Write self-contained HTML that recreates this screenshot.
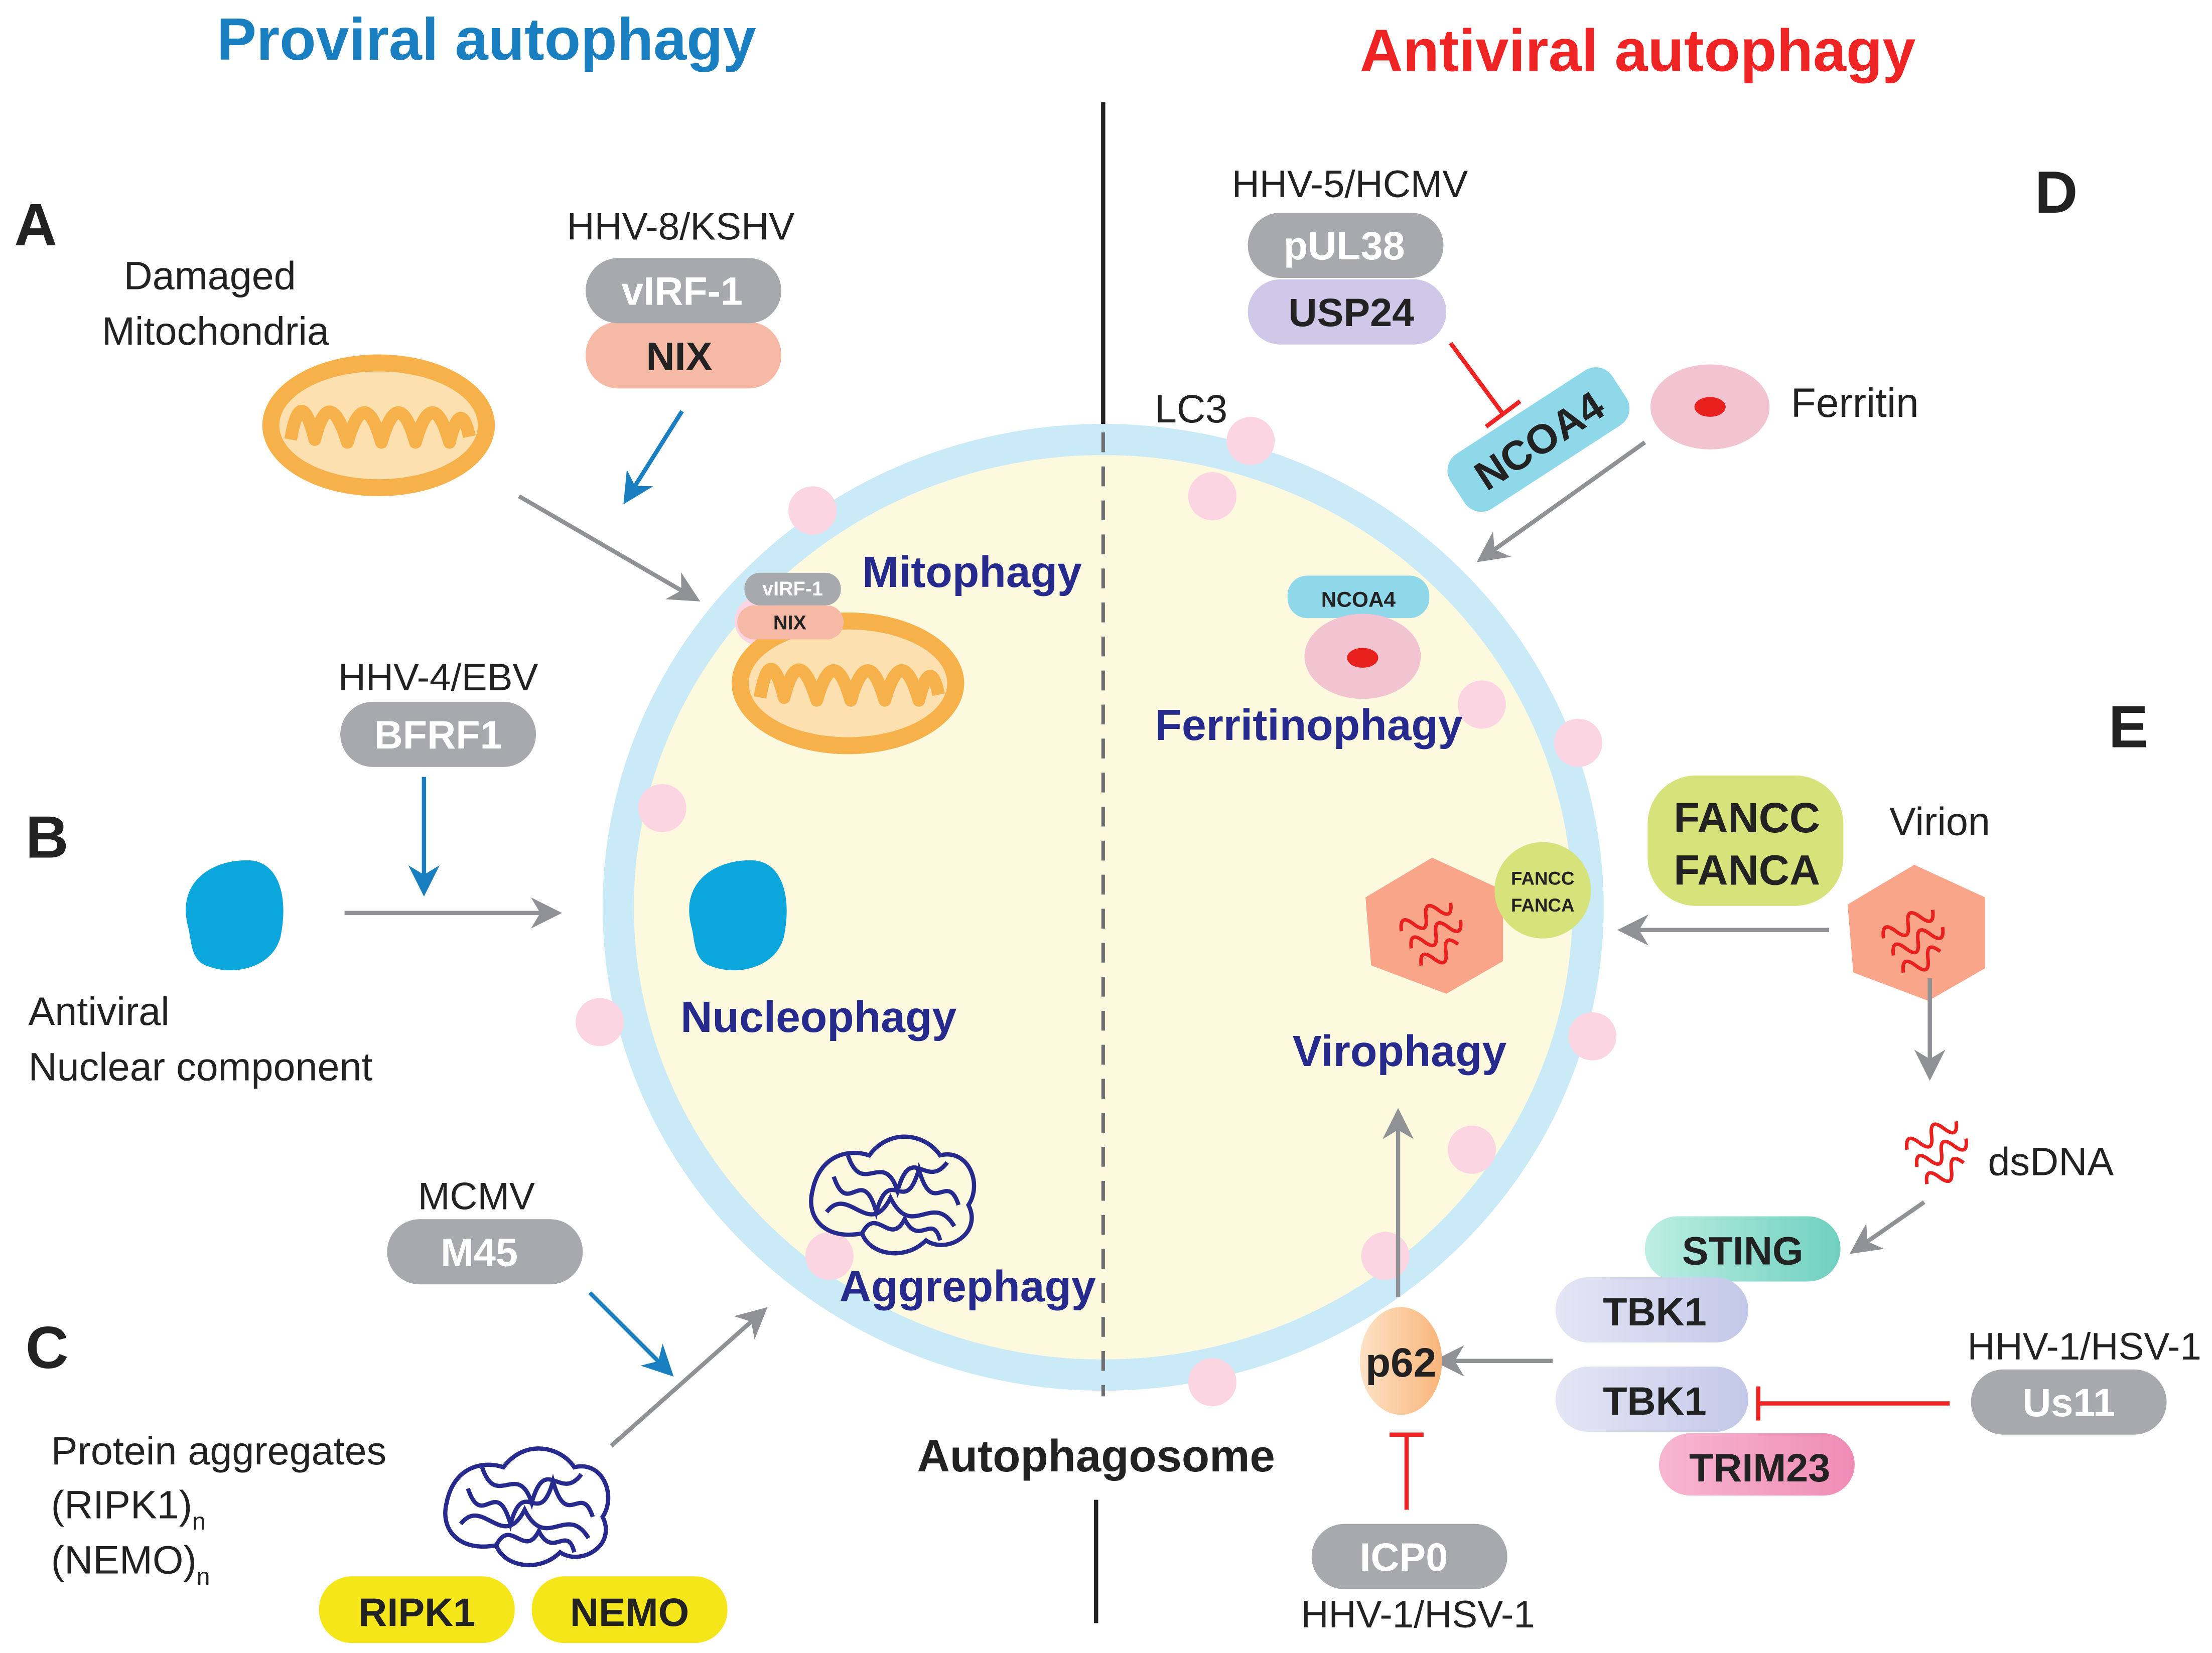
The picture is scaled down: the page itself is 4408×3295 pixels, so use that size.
<!DOCTYPE html>
<html><head><meta charset="utf-8"><style>
html,body{margin:0;padding:0;background:#fff;}
svg{display:block;}
text{font-family:"Liberation Sans",Arial,sans-serif;}
</style></head><body>
<svg width="4408" height="3295" viewBox="0 0 1560 1166" xmlns="http://www.w3.org/2000/svg">
<defs>
<marker id="ag" markerWidth="10" markerHeight="10" refX="8" refY="5" orient="auto" markerUnits="userSpaceOnUse" viewBox="0 0 10 10"><path d="M0,0 L10,5 L0,10 L3,5 Z" fill="#8f9194"/></marker>
<marker id="ab" markerWidth="10" markerHeight="10" refX="8" refY="5" orient="auto" viewBox="0 0 10 10"><path d="M0,0 L10,5 L0,10 L3,5 Z" fill="#1a7fc1"/></marker>
<marker id="ag2" viewBox="0 0 10 10" refX="8" refY="5" markerWidth="22" markerHeight="22" orient="auto" markerUnits="userSpaceOnUse"><path d="M0,0 L10,5 L0,10 L3,5 Z" fill="#8f9194"/></marker>
<marker id="ab2" viewBox="0 0 10 10" refX="8" refY="5" markerWidth="22" markerHeight="22" orient="auto" markerUnits="userSpaceOnUse"><path d="M0,0 L10,5 L0,10 L3,5 Z" fill="#1a7fc1"/></marker>
<linearGradient id="sting" x1="0" x2="1"><stop offset="0" stop-color="#bdeee3"/><stop offset="1" stop-color="#6fd0bf"/></linearGradient>
<linearGradient id="tbk" x1="0" x2="1"><stop offset="0" stop-color="#e4e6f5"/><stop offset="1" stop-color="#c3c8e8"/></linearGradient>
<linearGradient id="p62" x1="0" x2="1"><stop offset="0" stop-color="#fde2c6"/><stop offset="1" stop-color="#f9b57a"/></linearGradient>
<linearGradient id="trim" x1="0" x2="1"><stop offset="0" stop-color="#f7b6d0"/><stop offset="1" stop-color="#ef8cb6"/></linearGradient>
<g id="mito">
<ellipse cx="0" cy="0" rx="82" ry="50" fill="#f7b14a"/>
<ellipse cx="0" cy="0" rx="70" ry="38" fill="#fde0b0"/>
<path d="M-62,10 Q-55,-30 -45,10 Q-35,-30 -22,12 Q-10,-30 2,12 Q14,-30 26,12 Q38,-30 50,12 Q58,-20 64,8" fill="none" stroke="#f7b14a" stroke-width="9" stroke-linejoin="round"/>
</g>
<g id="blob">
<path d="M-30,10 C-40,-25 -10,-40 15,-38 C35,-35 40,-10 35,15 C30,38 0,45 -20,35 C-28,30 -28,20 -30,10 Z" fill="#0aa6dc"/>
</g>
<g id="agg" fill="none" stroke="#262a8c" stroke-width="3">
<path d="M-55,0 C-50,-25 -30,-30 -15,-25 C0,-45 25,-40 35,-25 C55,-30 65,-5 55,10 C65,30 40,45 25,35 C10,50 -15,45 -20,30 C-45,35 -60,20 -55,0 Z"/>
<path d="M-40,-10 C-30,20 -20,-20 -10,15 C0,-20 10,20 20,-15 C30,20 40,-15 48,10"/>
<path d="M-45,15 C-30,-5 -15,35 0,5 C15,35 30,0 45,25"/>
<path d="M-30,-25 C-20,5 -5,-30 5,0 C15,-35 25,0 40,-20"/>
<path d="M-20,30 C-10,10 0,40 10,20 C20,40 30,15 35,35"/>
</g>
<g id="virion">
<polygon points="-5,-48 45,-25 45,25 5,48 -48,28 -52,-20" fill="#f9a58a"/>
<path d="M-25,-10 q5,-12 10,0 t10,0 t10,0 t10,0 M-25,4 q5,-12 10,0 t10,0 t10,0 t10,0 M-25,18 q5,-12 10,0 t10,0 t10,0" fill="none" stroke="#e8201e" stroke-width="2.5" transform="rotate(-30)"/>
</g>
</defs>

<!-- titles -->
<text x="343" y="42" font-size="42" font-weight="bold" fill="#1a7fc1" text-anchor="middle">Proviral autophagy</text>
<text x="1155" y="50" font-size="42" font-weight="bold" fill="#ee2424" text-anchor="middle">Antiviral autophagy</text>

<!-- divider -->
<line x1="778" y1="72" x2="778" y2="305" stroke="#222" stroke-width="3"/>
<line x1="773" y1="1058" x2="773" y2="1145" stroke="#222" stroke-width="3"/>

<!-- autophagosome -->
<ellipse cx="778" cy="640" rx="342" ry="330" fill="#fdf9df" stroke="#c9eaf6" stroke-width="22"/>
<line x1="778" y1="305" x2="778" y2="985" stroke="#6d6e70" stroke-width="2.5" stroke-dasharray="14,10"/>

<!-- LC3 dots -->
<g fill="#fbd6e2">
<circle cx="573" cy="360" r="17"/><circle cx="855" cy="350" r="17"/><circle cx="882" cy="311" r="17"/>
<circle cx="1045" cy="497" r="17"/><circle cx="1113" cy="524" r="17"/><circle cx="467" cy="570" r="17"/>
<circle cx="423" cy="721" r="17"/><circle cx="1123" cy="731" r="17"/><circle cx="1038" cy="811" r="17"/>
<circle cx="977" cy="886" r="17"/><circle cx="585" cy="886" r="17"/><circle cx="855" cy="975" r="17"/>
<circle cx="535" cy="438" r="17"/>
</g>

<!-- Letters -->
<text x="10" y="173" font-size="42" font-weight="bold" fill="#222">A</text>
<text x="18" y="605" font-size="42" font-weight="bold" fill="#222">B</text>
<text x="18" y="965" font-size="42" font-weight="bold" fill="#222">C</text>
<text x="1435" y="150" font-size="42" font-weight="bold" fill="#222">D</text>
<text x="1487" y="527" font-size="42" font-weight="bold" fill="#222">E</text>

<!-- A -->
<text x="148" y="204" font-size="28" fill="#222" text-anchor="middle">Damaged</text>
<text x="152" y="243" font-size="28" fill="#222" text-anchor="middle">Mitochondria</text>
<use href="#mito" x="267" y="300"/>
<text x="480" y="169" font-size="27" fill="#222" text-anchor="middle">HHV-8/KSHV</text>
<rect x="413" y="227" width="138" height="47" rx="23" fill="#f6b9a5"/>
<text x="479" y="261" font-size="28" font-weight="bold" fill="#222" text-anchor="middle">NIX</text>
<rect x="413" y="182" width="138" height="46" rx="23" fill="#a7a9ac"/>
<text x="481" y="215" font-size="28" font-weight="bold" fill="#fff" text-anchor="middle">vIRF-1</text>
<line x1="481" y1="290" x2="442" y2="352" stroke="#1a7fc1" stroke-width="3" marker-end="url(#ab2)"/>
<line x1="366" y1="350" x2="490" y2="422" stroke="#8f9194" stroke-width="3" marker-end="url(#ag2)"/>

<use href="#mito" x="598" y="482"/>
<rect x="520" y="427" width="75" height="24" rx="12" fill="#f6b9a5"/>
<text x="557" y="444" font-size="14" font-weight="bold" fill="#222" text-anchor="middle">NIX</text>
<rect x="525" y="404" width="68" height="23" rx="11" fill="#a7a9ac"/>
<text x="559" y="420" font-size="14" font-weight="bold" fill="#fff" text-anchor="middle">vIRF-1</text>
<text x="608" y="414" font-size="31" font-weight="bold" fill="#262a8c">Mitophagy</text>

<!-- B -->
<text x="309" y="487" font-size="27" fill="#222" text-anchor="middle">HHV-4/EBV</text>
<rect x="240" y="495" width="138" height="46" rx="23" fill="#a7a9ac"/>
<text x="309" y="528" font-size="28" font-weight="bold" fill="#fff" text-anchor="middle">BFRF1</text>
<line x1="299" y1="548" x2="299" y2="628" stroke="#1a7fc1" stroke-width="3" marker-end="url(#ab2)"/>
<use href="#blob" x="163" y="645"/>
<line x1="243" y1="644" x2="392" y2="644" stroke="#8f9194" stroke-width="3" marker-end="url(#ag2)"/>
<text x="20" y="723" font-size="28" fill="#222">Antiviral</text>
<text x="20" y="762" font-size="28" fill="#222">Nuclear component</text>
<use href="#blob" x="518" y="645"/>
<text x="480" y="728" font-size="31" font-weight="bold" fill="#262a8c">Nucleophagy</text>

<!-- C -->
<text x="336" y="853" font-size="27" fill="#222" text-anchor="middle">MCMV</text>
<rect x="273" y="860" width="138" height="46" rx="23" fill="#a7a9ac"/>
<text x="338" y="893" font-size="28" font-weight="bold" fill="#fff" text-anchor="middle">M45</text>
<line x1="416" y1="912" x2="472" y2="968" stroke="#1a7fc1" stroke-width="3" marker-end="url(#ab2)"/>
<line x1="431" y1="1020" x2="538" y2="925" stroke="#8f9194" stroke-width="3" marker-end="url(#ag2)"/>
<text x="36" y="1033" font-size="28" fill="#222">Protein aggregates</text>
<text x="36" y="1071" font-size="28" fill="#222">(RIPK1)<tspan font-size="17" dy="8">n</tspan></text>
<text x="36" y="1110" font-size="28" fill="#222">(NEMO)<tspan font-size="17" dy="8">n</tspan></text>
<use href="#agg" x="370" y="1060"/>
<rect x="225" y="1112" width="138" height="47" rx="23" fill="#f5e61a"/>
<text x="294" y="1147" font-size="28" font-weight="bold" fill="#222" text-anchor="middle">RIPK1</text>
<rect x="375" y="1112" width="138" height="47" rx="23" fill="#f5e61a"/>
<text x="444" y="1147" font-size="28" font-weight="bold" fill="#222" text-anchor="middle">NEMO</text>
<use href="#agg" x="628" y="840"/>
<text x="592" y="918" font-size="31" font-weight="bold" fill="#262a8c">Aggrephagy</text>

<text x="773" y="1038" font-size="32" font-weight="bold" fill="#222" text-anchor="middle">Autophagosome</text>

<!-- D -->
<text x="952" y="139" font-size="27" fill="#222" text-anchor="middle">HHV-5/HCMV</text>
<rect x="880" y="197" width="140" height="46" rx="23" fill="#cfc8e8"/>
<text x="953" y="230" font-size="28" font-weight="bold" fill="#222" text-anchor="middle">USP24</text>
<rect x="880" y="150" width="138" height="46" rx="23" fill="#a7a9ac"/>
<text x="948" y="183" font-size="28" font-weight="bold" fill="#fff" text-anchor="middle">pUL38</text>
<path d="M1023,242 L1060,292 M1048,301 L1072,283" stroke="#ee2424" stroke-width="3" fill="none"/>
<text x="840" y="298" font-size="28" fill="#222" text-anchor="middle">LC3</text>
<g transform="translate(1085,310) rotate(-33)">
<rect x="-68" y="-23" width="136" height="46" rx="14" fill="#8fd8ea"/>
<text x="0" y="11" font-size="29" font-weight="bold" fill="#222" text-anchor="middle">NCOA4</text>
</g>
<ellipse cx="1206" cy="287" rx="42" ry="30" fill="#f2c4d2"/>
<ellipse cx="1206" cy="287" rx="11" ry="7" fill="#e8201e"/>
<text x="1263" y="294" font-size="29" fill="#222">Ferritin</text>
<line x1="1160" y1="312" x2="1045" y2="394" stroke="#8f9194" stroke-width="3" marker-end="url(#ag2)"/>
<rect x="908" y="406" width="100" height="30" rx="14" fill="#8fd8ea"/>
<text x="958" y="428" font-size="15" font-weight="bold" fill="#222" text-anchor="middle">NCOA4</text>
<ellipse cx="961" cy="463" rx="41" ry="30" fill="#f2c4d2"/>
<ellipse cx="961" cy="464" rx="11" ry="7" fill="#e8201e"/>
<text x="923" y="522" font-size="31" font-weight="bold" fill="#262a8c" text-anchor="middle">Ferritinophagy</text>

<!-- E -->
<rect x="1162" y="547" width="138" height="92" rx="34" fill="#d6e27a"/>
<text x="1232" y="587" font-size="30" font-weight="bold" fill="#222" text-anchor="middle">FANCC</text>
<text x="1232" y="624" font-size="30" font-weight="bold" fill="#222" text-anchor="middle">FANCA</text>
<text x="1368" y="589" font-size="28" fill="#222" text-anchor="middle">Virion</text>
<use href="#virion" x="1355" y="658"/>
<line x1="1290" y1="656" x2="1145" y2="656" stroke="#8f9194" stroke-width="3" marker-end="url(#ag2)"/>
<use href="#virion" x="1015" y="653"/>
<circle cx="1088" cy="628" r="34" fill="#d6e27a"/>
<text x="1088" y="624" font-size="13" font-weight="bold" fill="#222" text-anchor="middle">FANCC</text>
<text x="1088" y="643" font-size="13" font-weight="bold" fill="#222" text-anchor="middle">FANCA</text>
<text x="987" y="752" font-size="31" font-weight="bold" fill="#262a8c" text-anchor="middle">Virophagy</text>
<line x1="1361" y1="690" x2="1361" y2="758" stroke="#8f9194" stroke-width="3" marker-end="url(#ag2)"/>
<path d="M1350,800 q5,-12 10,0 t10,0 t10,0 t10,0 M1350,814 q5,-12 10,0 t10,0 t10,0 t10,0 M1350,828 q5,-12 10,0 t10,0 t10,0" fill="none" stroke="#e8201e" stroke-width="2.5" transform="rotate(-30 1368 815)"/>
<text x="1402" y="829" font-size="28" fill="#222">dsDNA</text>
<line x1="1357" y1="848" x2="1308" y2="882" stroke="#8f9194" stroke-width="3" marker-end="url(#ag2)"/>
<rect x="1160" y="858" width="138" height="46" rx="23" fill="url(#sting)"/>
<text x="1229" y="892" font-size="28" font-weight="bold" fill="#222" text-anchor="middle">STING</text>
<rect x="1097" y="901" width="136" height="46" rx="23" fill="url(#tbk)"/>
<text x="1167" y="935" font-size="28" font-weight="bold" fill="#222" text-anchor="middle">TBK1</text>
<rect x="1170" y="1011" width="138" height="44" rx="22" fill="url(#trim)"/>
<text x="1241" y="1045" font-size="28" font-weight="bold" fill="#222" text-anchor="middle">TRIM23</text>
<rect x="1097" y="964" width="136" height="46" rx="23" fill="url(#tbk)"/>
<text x="1167" y="998" font-size="28" font-weight="bold" fill="#222" text-anchor="middle">TBK1</text>
<text x="1470" y="959" font-size="27" fill="#222" text-anchor="middle">HHV-1/HSV-1</text>
<rect x="1390" y="966" width="138" height="46" rx="23" fill="#a7a9ac"/>
<text x="1459" y="999" font-size="28" font-weight="bold" fill="#fff" text-anchor="middle">Us11</text>
<path d="M1375,990 L1240,990 M1240,978 L1240,1002" stroke="#ee2424" stroke-width="3" fill="none"/>
<line x1="1095" y1="960" x2="1015" y2="960" stroke="#8f9194" stroke-width="3" marker-end="url(#ag2)"/>
<ellipse cx="988" cy="960" rx="29" ry="38" fill="url(#p62)"/>
<text x="988" y="971" font-size="29" font-weight="bold" fill="#222" text-anchor="middle">p62</text>
<line x1="986" y1="915" x2="986" y2="786" stroke="#8f9194" stroke-width="3" marker-end="url(#ag2)"/>
<path d="M992,1065 L992,1012 M980,1012 L1004,1012" stroke="#ee2424" stroke-width="3" fill="none"/>
<rect x="925" y="1075" width="138" height="46" rx="23" fill="#a7a9ac"/>
<text x="990" y="1108" font-size="28" font-weight="bold" fill="#fff" text-anchor="middle">ICP0</text>
<text x="1000" y="1148" font-size="27" fill="#222" text-anchor="middle">HHV-1/HSV-1</text>
</svg>
</body></html>
